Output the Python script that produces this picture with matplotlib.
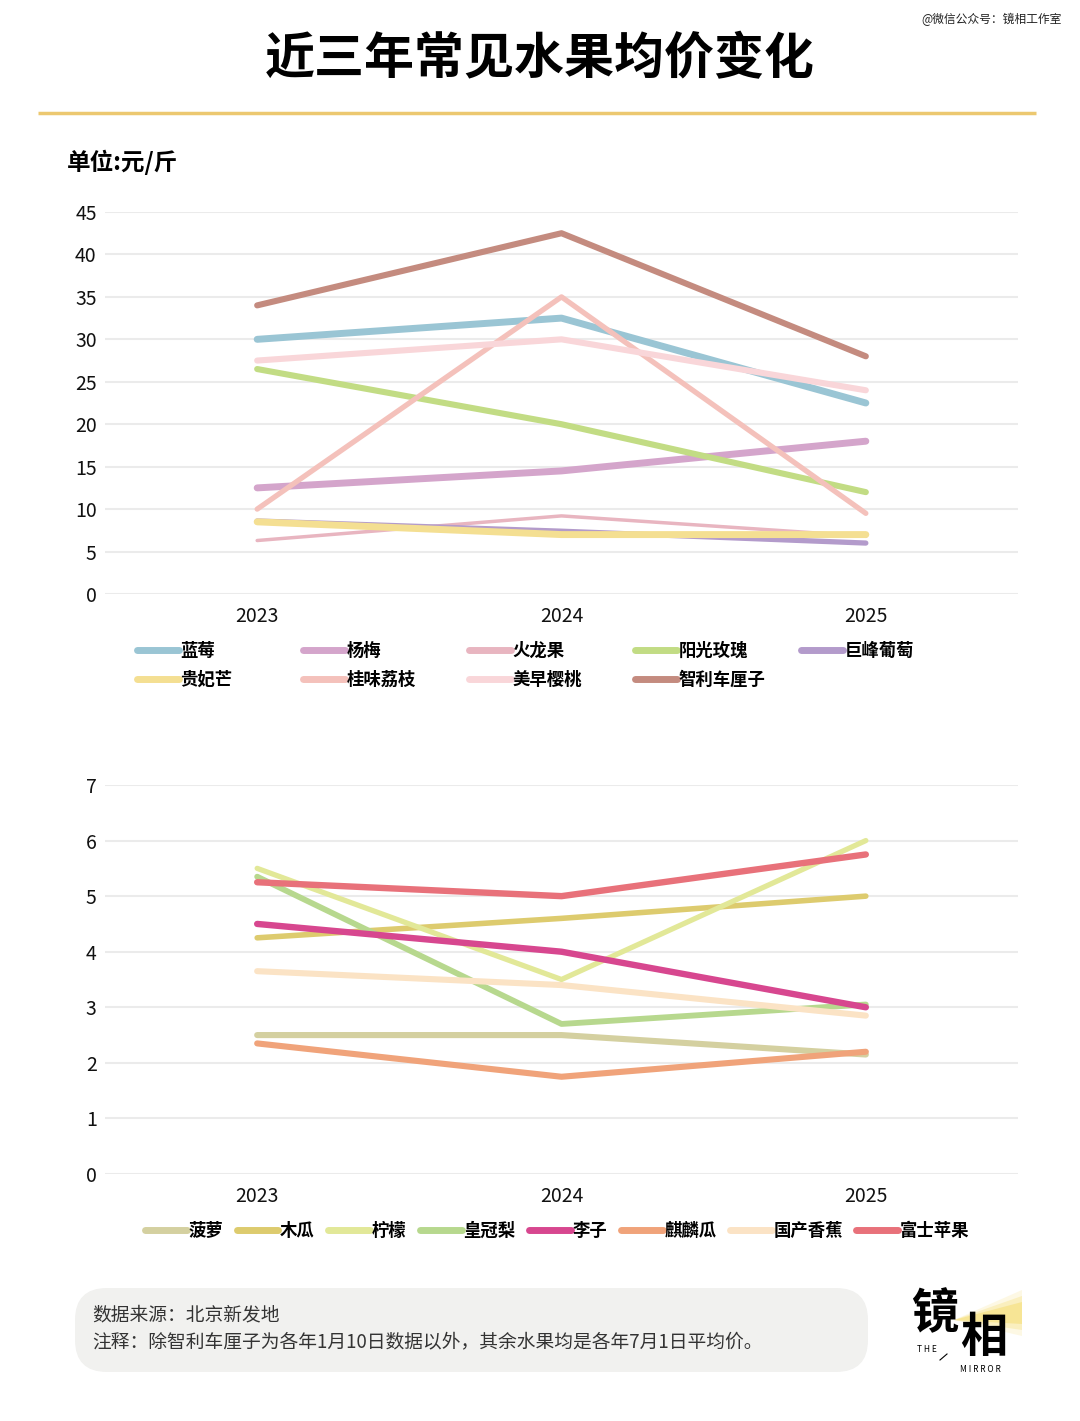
import matplotlib
matplotlib.use('Agg')
import matplotlib.pyplot as plt
from matplotlib.lines import Line2D
from matplotlib.patches import FancyBboxPatch, Polygon

plt.rcParams['font.family'] = ['Noto Sans CJK SC', 'DejaVu Sans']

years = [2023, 2024, 2025]

# upper chart
top_names = ['蓝莓', '杨梅', '火龙果', '阳光玫瑰', '巨峰葡萄',
             '贵妃芒', '桂味荔枝', '美早樱桃', '智利车厘子']
blueberry = [30, 32.5, 22.5]
bayberry = [12.5, 14.5, 18]
dragonfruit = [6.3, 9.2, 6.8]
shine_muscat = [26.5, 20, 12]
kyoho = [8.6, 7.4, 6]
mango = [8.5, 7, 7]
lychee = [10, 35, 9.5]
cherry_mz = [27.5, 30, 24]
cherry_cl = [34, 42.5, 28]
top_values = [blueberry, bayberry, dragonfruit, shine_muscat, kyoho,
              mango, lychee, cherry_mz, cherry_cl]
top_colors = ['#9ac5d4', '#d4a5cb', '#e8b5c0', '#c2dc84', '#b39bcb',
              '#f4df92', '#f4c1bb', '#f9d6d9', '#c48b7f']
top_widths = [5, 5, 2.5, 4.4, 3.8, 5, 3.8, 4.4, 4.4]
top_yticks = [0, 5, 10, 15, 20, 25, 30, 35, 40, 45]

# lower chart
bot_names = ['菠萝', '木瓜', '柠檬', '皇冠梨', '李子', '麒麟瓜', '国产香蕉', '富士苹果']
pineapple = [2.5, 2.5, 2.15]
papaya = [4.25, 4.6, 5.0]
lemon = [5.5, 3.5, 6.0]
pear = [5.35, 2.7, 3.05]
plum = [4.5, 4.0, 3.0]
melon = [2.35, 1.75, 2.2]
banana = [3.65, 3.4, 2.85]
apple = [5.25, 5.0, 5.75]
bot_values = [pineapple, papaya, lemon, pear, plum, melon, banana, apple]
bot_colors = ['#d4d0a0', '#ddcb6e', '#e2e898', '#b7d88e', '#d7478f',
              '#f0a37a', '#fbe3c5', '#e8717a']
bot_widths = [4.4, 4.0, 3.8, 4.2, 4.6, 4.4, 4.4, 4.6]
bot_yticks = [0, 1, 2, 3, 4, 5, 6, 7]

W, H = 1080, 1421
fig = plt.figure(figsize=(W / 100, H / 100), dpi=100)
fig.patch.set_facecolor('white')

# decoration layer in pixel coordinates
bg = fig.add_axes([0, 0, 1, 1], zorder=-1)
bg.set_xlim(0, W)
bg.set_ylim(H, 0)
bg.axis('off')

bg.text(540, 60, '近三年常见水果均价变化', ha='center', va='center',
        fontsize=36, fontweight='heavy', color='black')
bg.text(1062, 19, '@微信公众号：镜相工作室', ha='right', va='center',
        fontsize=8.5, color='#222222')
bg.plot([38, 1036], [113, 113], color='#ecc870', lw=2.5, solid_capstyle='butt')
bg.text(67, 162, '单位:元/斤', ha='left', va='center', fontsize=17,
        fontweight='bold', color='black')

box = FancyBboxPatch((75, 1288), 793, 84, boxstyle='round,pad=0,rounding_size=32',
                     fc='#f1f1ef', ec='none')
bg.add_patch(box)
bg.text(92, 1315, '数据来源：北京新发地', ha='left', va='center', fontsize=13.5,
        color='#333333')
bg.text(92, 1342, '注释：除智利车厘子为各年1月10日数据以外，其余水果均是各年7月1日平均价。',
        ha='left', va='center', fontsize=13.5, color='#333333')

# logo
for k, a in enumerate([0.2, 0.35, 0.6]):
    spread = 6 * (2 - k)
    bg.add_patch(Polygon([(954, 1320), (1022, 1302 - spread), (1022, 1324 + spread)],
                         closed=True, fc='#f5df7a', ec='none', alpha=a))
bg.text(935, 1314, '镜', ha='center', va='center', fontsize=34, fontweight='heavy', color='black')
bg.text(984, 1338, '相', ha='center', va='center', fontsize=34, fontweight='heavy', color='black')
bg.text(927, 1350, 'T H E', ha='center', va='center', fontsize=6, color='black')
bg.plot([940, 947], [1360, 1354], color='black', lw=0.8)
bg.text(980, 1369, 'M I R R O R', ha='center', va='center', fontsize=6, color='black')


def setup(ax, yticks):
    ax.set_xlim(2022.5, 2025.5)
    ax.set_ylim(yticks[0], yticks[-1])
    ax.set_yticks(yticks)
    ax.set_xticks(years)
    ax.set_xticklabels([str(y) for y in years])
    ax.grid(axis='y', color='#ebebeb', lw=1.5)
    ax.set_axisbelow(True)
    for s in ax.spines.values():
        s.set_visible(False)
    ax.tick_params(axis='both', length=0, labelsize=14, colors='#111111')
    ax.tick_params(axis='y', pad=6)
    ax.tick_params(axis='x', pad=9)


ax1 = fig.add_axes([105 / W, 1 - 594 / H, 913 / W, 382 / H])
setup(ax1, top_yticks)
for name, vals, col, lw in zip(top_names, top_values, top_colors, top_widths):
    ax1.plot(years, vals, color=col, lw=lw, solid_capstyle='round',
             solid_joinstyle='round', label=name, clip_on=False)

ax2 = fig.add_axes([105 / W, 1 - 1174 / H, 913 / W, 389 / H])
setup(ax2, bot_yticks)
for name, vals, col, lw in zip(bot_names, bot_values, bot_colors, bot_widths):
    ax2.plot(years, vals, color=col, lw=lw, solid_capstyle='round',
             solid_joinstyle='round', label=name, clip_on=False)

# upper legend: five evenly spaced columns
top_handles = [Line2D([], [], color=c, lw=5, solid_capstyle='round') for c in top_colors]
for i in range(5):
    idx = [j for j in (i, i + 5) if j < len(top_names)]
    fig.legend([top_handles[j] for j in idx], [top_names[j] for j in idx],
               loc='upper left', bbox_to_anchor=((137 + 166 * i) / W, 1 - 642 / H),
               frameon=False, borderpad=0, borderaxespad=0, handlelength=2.4,
               handletextpad=0.1, labelspacing=0.62,
               prop={'size': 12.5, 'weight': 'bold'})

bot_handles = [Line2D([], [], color=c, lw=5, solid_capstyle='round') for c in bot_colors]
fig.legend(bot_handles, bot_names, loc='upper left',
           bbox_to_anchor=(145 / W, 1 - 1222 / H), ncol=8, frameon=False,
           borderpad=0, borderaxespad=0, handlelength=2.4, handletextpad=0.1,
           columnspacing=0.78, prop={'size': 12.5, 'weight': 'bold'})

fig.savefig('out.png', dpi=100, facecolor='white')
